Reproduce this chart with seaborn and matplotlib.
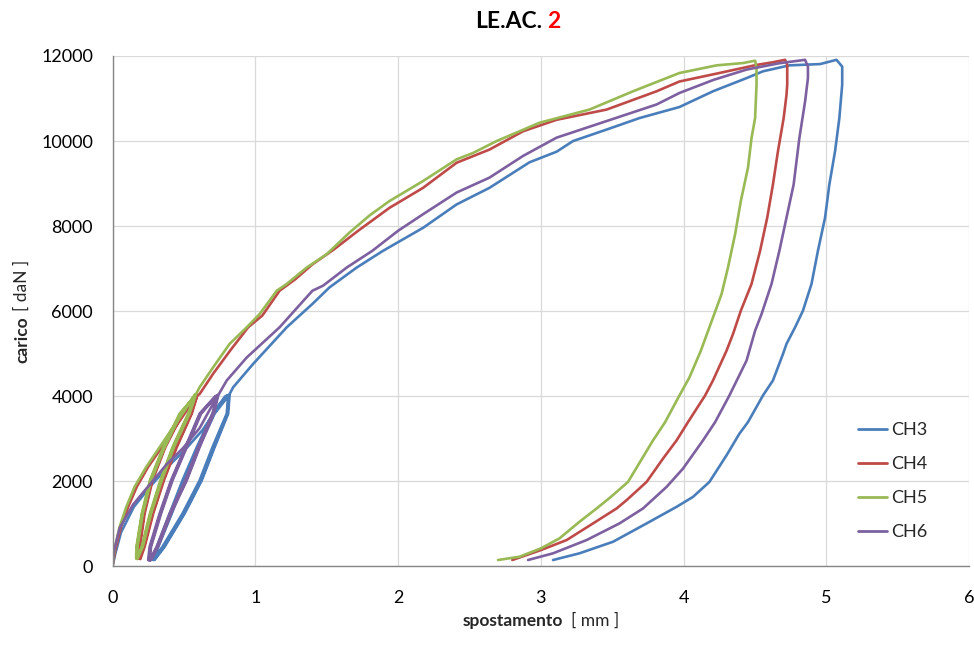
import matplotlib
matplotlib.use("Agg")
import matplotlib.pyplot as plt
import pandas as pd
import seaborn as sns

# ---------------- data ----------------
CHANNELS = ["CH3", "CH4", "CH5", "CH6"]
COLORS = ["#4A7EBB", "#BE4B48", "#98B954", "#7D60A0"]
X_TICKS = [0, 1, 2, 3, 4, 5, 6]
Y_TICKS = [0, 2000, 4000, 6000, 8000, 10000, 12000]
TITLE_MAIN = "LE.AC."
TITLE_NUM = "2"
X_LABEL = ("spostamento", "[ mm ]")
Y_LABEL = ("carico", "[ daN ]")

CH3_X = [
    0, 0.02, 0.06, 0.15, 0.27, 0.39, 0.51, 0.63, 0.75, 0.81,
    0.81, 0.80, 0.70, 0.61, 0.49, 0.35, 0.285,
    0.275, 0.31, 0.40, 0.49, 0.59, 0.70, 0.79,
    0.815, 0.805, 0.71, 0.62, 0.50, 0.36, 0.29,
    0.28, 0.315, 0.41, 0.50, 0.60, 0.71, 0.80,
    0.82, 0.81, 0.715, 0.625, 0.505, 0.365, 0.295,
    0.285, 0.32, 0.415, 0.505, 0.605, 0.715, 0.81,
    0.82, 0.845, 0.985, 1.22, 1.40, 1.52, 1.71, 1.895, 2.175, 2.41, 2.64,
    2.92, 3.11, 3.225, 3.46, 3.69, 3.97, 4.205, 4.44, 4.555, 4.74, 4.955, 5.07,
    5.11, 5.11, 5.09, 5.06, 5.02, 4.99, 4.94, 4.895, 4.835, 4.78, 4.72, 4.695,
    4.625, 4.555, 4.45, 4.39, 4.30, 4.18, 4.065, 3.95, 3.74, 3.505, 3.27, 3.085,
]
CH3_Y = [
    0, 300, 800, 1400, 1900, 2350, 2750, 3200, 3800, 4000,
    4000, 3590, 2800, 2020, 1240, 460, 170,
    170, 460, 1240, 2020, 2800, 3590, 4000,
    4020, 3590, 2800, 2020, 1240, 460, 160,
    160, 460, 1240, 2020, 2800, 3590, 4010,
    4030, 3590, 2800, 2020, 1240, 460, 150,
    150, 460, 1240, 2020, 2800, 3590, 4000,
    4050, 4210, 4760, 5620, 6170, 6560, 7025, 7420, 7960, 8510, 8900,
    9500, 9750, 10000, 10270, 10540, 10800, 11170, 11480, 11640, 11780, 11810, 11910,
    11750, 11330, 10540, 9760, 8980, 8200, 7420, 6640, 6010, 5620, 5230, 4990,
    4370, 4017, 3390, 3118, 2610, 1984, 1632, 1398, 1008, 577, 305, 148,
]

CH4_X = [
    0, 0.02, 0.06, 0.11, 0.17, 0.25, 0.345, 0.44, 0.52, 0.58, 0.592,
    0.585, 0.545, 0.44, 0.35, 0.275, 0.215, 0.185,
    0.18, 0.182, 0.215, 0.27, 0.36, 0.48, 0.588,
    0.59, 0.55, 0.445, 0.355, 0.28, 0.22, 0.19,
    0.185, 0.188, 0.22, 0.275, 0.365, 0.485, 0.592,
    0.592, 0.555, 0.45, 0.36, 0.285, 0.225, 0.195,
    0.19, 0.192, 0.225, 0.28, 0.37, 0.49, 0.595,
    0.61, 0.705, 0.83, 0.95, 1.05, 1.17, 1.28, 1.40, 1.55, 1.72, 1.94,
    2.175, 2.41, 2.64, 2.875, 3.11, 3.46, 3.81, 3.97, 4.25, 4.51, 4.62, 4.71,
    4.725, 4.725, 4.72, 4.70, 4.66, 4.625, 4.585, 4.535, 4.475, 4.40, 4.345, 4.30,
    4.205, 4.15, 4.03, 3.95, 3.855, 3.74, 3.60, 3.53, 3.365, 3.18, 3.0, 2.80,
]
CH4_Y = [
    0, 400, 930, 1400, 1870, 2340, 2800, 3270, 3665, 3980, 4030,
    3980, 3590, 2800, 2020, 1240, 460, 190,
    200, 460, 1240, 2020, 2800, 3590, 4000,
    3990, 3590, 2800, 2020, 1240, 460, 180,
    190, 460, 1240, 2020, 2800, 3590, 4010,
    4000, 3590, 2800, 2020, 1240, 460, 170,
    180, 460, 1240, 2020, 2800, 3590, 4020,
    4050, 4530, 5100, 5620, 5900, 6480, 6750, 7100, 7450, 7890, 8430,
    8900, 9490, 9800, 10230, 10500, 10740, 11170, 11400, 11600, 11790, 11850, 11910,
    11790, 11330, 11090, 10540, 9760, 8980, 8200, 7420, 6640, 6010, 5460, 5070,
    4370, 4017, 3390, 2960, 2532, 1984, 1555, 1360, 1008, 617, 382, 148,
]

CH5_X = [
    0, 0.015, 0.05, 0.097, 0.155, 0.237, 0.33, 0.424, 0.506, 0.564, 0.578,
    0.57, 0.53, 0.42, 0.335, 0.262, 0.205, 0.17,
    0.165, 0.168, 0.205, 0.262, 0.355, 0.47, 0.572,
    0.575, 0.535, 0.425, 0.34, 0.266, 0.208, 0.172,
    0.168, 0.17, 0.208, 0.266, 0.36, 0.475, 0.578,
    0.58, 0.54, 0.43, 0.345, 0.27, 0.212, 0.175,
    0.172, 0.175, 0.212, 0.27, 0.365, 0.48, 0.58,
    0.61, 0.705, 0.82, 0.94, 1.03, 1.15, 1.22, 1.36, 1.50, 1.66, 1.80, 1.94,
    2.175, 2.41, 2.525, 2.69, 2.99, 3.34, 3.645, 3.97, 4.23, 4.415, 4.50,
    4.51, 4.51, 4.50, 4.475, 4.45, 4.40, 4.36, 4.31, 4.265, 4.205, 4.12, 4.04,
    3.97, 3.87, 3.785, 3.715, 3.61, 3.49, 3.39, 3.27, 3.13, 3.0, 2.85, 2.70,
]
CH5_Y = [
    0, 420, 930, 1400, 1870, 2340, 2800, 3270, 3665, 3980, 4040,
    3980, 3590, 2800, 2020, 1240, 460, 200,
    190, 460, 1240, 2020, 2800, 3590, 3990,
    3990, 3590, 2800, 2020, 1240, 460, 190,
    180, 460, 1240, 2020, 2800, 3590, 4010,
    4000, 3590, 2800, 2020, 1240, 460, 180,
    170, 460, 1240, 2020, 2800, 3590, 4020,
    4210, 4680, 5230, 5620, 5930, 6480, 6640, 7025, 7340, 7850, 8250, 8590,
    9060, 9570, 9720, 10000, 10430, 10740, 11170, 11600, 11780, 11834, 11890,
    11720, 11330, 10540, 10070, 9370, 8590, 7810, 7025, 6400, 5850, 5070, 4440,
    4017, 3390, 2960, 2570, 1984, 1632, 1360, 1046, 656, 422, 225, 148,
]

CH6_X = [
    0, 0.01, 0.05, 0.144, 0.26, 0.377, 0.494, 0.61, 0.727,
    0.73, 0.70, 0.60, 0.51, 0.40, 0.31, 0.26,
    0.25, 0.26, 0.33, 0.41, 0.51, 0.61, 0.72,
    0.735, 0.705, 0.605, 0.515, 0.405, 0.315, 0.265,
    0.255, 0.265, 0.335, 0.415, 0.515, 0.615, 0.725,
    0.74, 0.71, 0.61, 0.52, 0.41, 0.32, 0.27,
    0.26, 0.27, 0.34, 0.42, 0.52, 0.62, 0.73,
    0.745, 0.80, 0.94, 1.17, 1.40, 1.475, 1.64, 1.82, 2.0, 2.175, 2.41,
    2.64, 2.875, 3.11, 3.46, 3.81, 3.97, 4.21, 4.44, 4.67, 4.85,
    4.87, 4.87, 4.85, 4.81, 4.77, 4.72, 4.67, 4.615, 4.545, 4.50, 4.44,
    4.32, 4.22, 4.135, 3.995, 3.88, 3.715, 3.55, 3.32, 3.085, 2.91,
]
CH6_Y = [
    0, 350, 900, 1450, 1920, 2390, 2780, 3250, 3960,
    4000, 3590, 2800, 2020, 1240, 460, 150,
    150, 460, 1240, 2020, 2800, 3590, 4000,
    4010, 3590, 2800, 2020, 1240, 460, 140,
    140, 460, 1240, 2020, 2800, 3590, 4000,
    4020, 3590, 2800, 2020, 1240, 460, 150,
    150, 460, 1240, 2020, 2800, 3590, 4010,
    4050, 4370, 4910, 5620, 6480, 6600, 7025, 7420, 7890, 8280, 8790,
    9140, 9650, 10080, 10470, 10860, 11130, 11440, 11680, 11830, 11910,
    11750, 11480, 10930, 10070, 8980, 8200, 7420, 6640, 5930, 5540, 4837,
    4017, 3390, 2960, 2297, 1867, 1360, 1008, 617, 305, 148,
]

SERIES = {"CH3": (CH3_X, CH3_Y), "CH4": (CH4_X, CH4_Y),
          "CH5": (CH5_X, CH5_Y), "CH6": (CH6_X, CH6_Y)}

# ---------------- build table ----------------
frames = []
for ch in CHANNELS:
    xs, ys = SERIES[ch]
    assert len(xs) == len(ys), ch
    frames.append(pd.DataFrame({"spostamento": xs, "carico": ys, "canale": ch}))
df = pd.concat(frames, ignore_index=True)

# ---------------- style ----------------
sns.set_style("white")
plt.rcParams["font.family"] = ["Lato", "DejaVu Sans"]

W, H = 974, 646
fig = plt.figure(figsize=(W / 100, H / 100), dpi=100)
ax = fig.add_axes([112.5 / W, 1 - 566.3 / H, (969.3 - 112.5) / W, (566.3 - 56) / H])

sns.lineplot(data=df, x="spostamento", y="carico", hue="canale",
             hue_order=CHANNELS, palette=COLORS, sort=False, estimator=None,
             linewidth=1.9, ax=ax, legend=True)
for ln in ax.get_lines():
    ln.set_solid_joinstyle("round")
    ln.set_solid_capstyle("round")

ax.set_xlim(0, 6)
ax.set_ylim(0, 12000)
ax.set_xticks(X_TICKS)
ax.set_yticks(Y_TICKS)
ax.set_xticklabels([str(v) for v in X_TICKS])
ax.set_yticklabels([str(v) for v in Y_TICKS])
ax.set_xlabel("")
ax.set_ylabel("")
ax.grid(True, color="#D9D9D9", linewidth=0.9)
ax.set_axisbelow(True)
for s in ["top", "right"]:
    ax.spines[s].set_visible(False)
for s in ["left", "bottom"]:
    ax.spines[s].set_color("#868686")
    ax.spines[s].set_linewidth(1.0)
ax.tick_params(axis="x", direction="out", length=5, width=1, color="#868686",
               pad=12, labelsize=13, labelcolor="black")
ax.tick_params(axis="y", direction="out", length=3, width=1, color="#868686",
               pad=11, labelsize=13, labelcolor="black")

handles, labels = ax.get_legend_handles_labels()
leg = ax.legend(handles, labels, loc="upper left",
                bbox_to_anchor=(858 / W, 1 - 422 / H), bbox_transform=fig.transFigure,
                frameon=False, fontsize=13, handlelength=1.6, handletextpad=0.25,
                labelspacing=1.0, borderpad=0, borderaxespad=0)
for lh in leg.get_lines():
    lh.set_linewidth(2.0)

# ---------------- composite texts ----------------
t_a = fig.text(0, 1 - 28.3 / H, TITLE_MAIN, fontsize=16.5, fontweight="bold",
               color="black", ha="left", va="baseline")
t_b = fig.text(0, 1 - 28.3 / H, TITLE_NUM, fontsize=16.5, fontweight="bold",
               color="#FF0000", ha="left", va="baseline")
xl_a = fig.text(0, 1 - 626 / H, X_LABEL[0], fontsize=12.5, fontweight="bold",
                ha="left", va="baseline")
xl_b = fig.text(0, 1 - 626 / H, X_LABEL[1], fontsize=12.5, ha="left", va="baseline")
yl_a = fig.text(27 / W, 0, Y_LABEL[0], fontsize=12.5, fontweight="bold",
                rotation=90, rotation_mode="anchor", ha="left", va="baseline")
yl_b = fig.text(27 / W, 0, Y_LABEL[1], fontsize=12.5, rotation=90,
                rotation_mode="anchor", ha="left", va="baseline")

fig.canvas.draw()
r = fig.canvas.get_renderer()

# title
wa = t_a.get_window_extent(r).width
wb = t_b.get_window_extent(r).width
gap = 5
x0 = 517.5 - (wa + gap + wb) / 2
t_a.set_x(x0 / W)
t_b.set_x((x0 + wa + gap) / W)

# x label
wa = xl_a.get_window_extent(r).width
wb = xl_b.get_window_extent(r).width
gap = 8
x0 = 541 - (wa + gap + wb) / 2
xl_a.set_x(x0 / W)
xl_b.set_x((x0 + wa + gap) / W)

# y label (bottom-to-top)
ha_ = yl_a.get_window_extent(r).height
hb_ = yl_b.get_window_extent(r).height
gap = 6
yc = H - 311.5
y0 = yc - (ha_ + gap + hb_) / 2
yl_a.set_y(y0 / H)
yl_b.set_y((y0 + ha_ + gap) / H)

fig.savefig("out.png", dpi=100, facecolor="white")
